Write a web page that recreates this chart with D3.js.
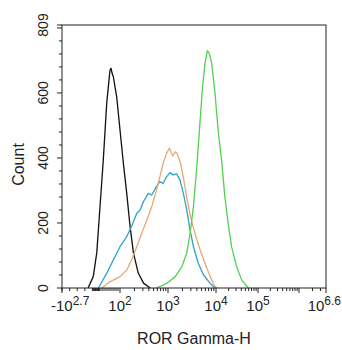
<!DOCTYPE html>
<html><head><meta charset="utf-8">
<script src="https://cdn.jsdelivr.net/npm/d3@7"></script>
<style>body{margin:0;background:#fff}svg{display:block}</style>
</head><body><svg id="c" width="342" height="350"></svg>
<script>
// x values are in logicle display units (decades); y values are event counts
const blackX = [-0.85,-0.48,-0.23,0,0.33,0.67,1.0,1.1,1.2,1.33,1.67,2.0,2.07,2.14,2.21,2.28,2.38,2.49,2.63];
const blackY = [0,35,108,250,394,568,670,676,662,650,588,486,384,291,189,108,46,15,0];
const blueX = [-0.12,0.67,1.33,2.0,2.14,2.24,2.35,2.42,2.49,2.59,2.66,2.76,2.83,2.90,2.97,3.04,3.11,3.18,3.25,3.32,3.39,3.46,3.53,3.63,3.74,3.88,3.98];
const blueY = [0,45,86,127,158,189,230,240,266,291,286,312,327,322,342,355,348,351,332,291,240,178,127,76,40,14,0];
const orangeX = [0.17,1.0,2.0,2.14,2.24,2.35,2.45,2.56,2.66,2.76,2.83,2.90,2.97,3.03,3.10,3.15,3.19,3.26,3.33,3.40,3.47,3.56,3.67,3.77,3.88,3.96,4.02];
const orangeY = [0,19,35,55,86,127,168,209,250,301,342,384,414,430,406,419,414,384,332,271,219,168,117,76,35,9,0];
const greenX = [2.76,2.97,3.15,3.29,3.39,3.46,3.53,3.60,3.67,3.72,3.77,3.82,3.86,3.91,3.98,4.05,4.14,4.21,4.29,4.37,4.49,4.61,4.77];
const greenY = [0,14,35,66,107,168,250,373,517,619,691,730,722,691,599,486,384,281,199,127,66,25,0];

const seriesNames = ["Isotype","Blue","Orange","Green"];
const seriesColors = ["#111111","#2ea3c9","#e2a877","#52d14f"];

const xMajor = [-2.7, 2, 3, 4, 5, 6.6];
const xMajorBase = ["-10","10","10","10","10","10"];
const xMajorExp = ["2.7","2","3","4","5","6.6"];
const yTicks = [0,200,400,600,809];
const yMax = 809;
const xTitle = "ROR Gamma-H";
const yTitle = "Count";

const svg = d3.select("#c");
const L=62,R=326,T=25,B=288;
const font = "'Liberation Sans', Arial, sans-serif";

const x = d3.scaleLinear().domain([-2.7,0,2,3,4,5,6,6.6]).range([L,100,120,168,216,258,299,R]);
const y = d3.scaleLinear().domain([0,yMax]).range([B,T]);
// convert raw intensity to display units
const u = v => v>=100 ? Math.log10(v) : v>=0 ? v/50 : -2.7*(-v)/501;

// curves
const all = [[blackX,blackY],[blueX,blueY],[orangeX,orangeY],[greenX,greenY]];
const line = d3.line().x(d=>x(d[0])).y(d=>y(d[1]));
all.forEach((s,i)=>{
  const pts = s[0].map((v,j)=>[v,s[1][j]]);
  svg.append("path").datum(pts).attr("d",line).attr("fill","none")
    .attr("stroke",seriesColors[i]).attr("stroke-width",1.3).attr("stroke-linejoin","round");
});

// frame
svg.append("rect").attr("x",L).attr("y",T).attr("width",R-L).attr("height",B-T)
  .attr("fill","none").attr("stroke","#222").attr("stroke-width",1);

// y ticks
const yMinor = d3.range(0,yMax,40);
yMinor.forEach(v=>{
  const major = v%200===0;
  svg.append("line").attr("x1",L).attr("x2",L-(major?5:3)).attr("y1",y(v)).attr("y2",y(v)).attr("stroke","#222");
});
svg.append("line").attr("x1",L).attr("x2",L-5).attr("y1",y(yMax)).attr("y2",y(yMax)).attr("stroke","#222");
yTicks.forEach(v=>{
  svg.append("text").attr("transform",`translate(48,${y(v)}) rotate(-90)`)
    .attr("text-anchor","middle").attr("font-family",font).attr("font-size",14).attr("fill","#222").text(v);
});
svg.append("text").attr("transform",`translate(24,${(T+B)/2+8}) rotate(-90)`)
  .attr("text-anchor","middle").attr("font-family",font).attr("font-size",16).attr("fill","#222").text(yTitle);

// x minor ticks
const minorVals = [];
[-500,-400,-300,-200,-100].forEach(v=>minorVals.push(v));
d3.range(-90,100,10).forEach(v=>minorVals.push(v));
[2,3,4,5].forEach(d=>{for(let k=2;k<10;k++) minorVals.push(k*Math.pow(10,d));});
[2,3].forEach(k=>minorVals.push(k*1e6));
minorVals.forEach(v=>{
  const p = x(u(v));
  svg.append("line").attr("x1",p).attr("x2",p).attr("y1",B).attr("y2",B+3).attr("stroke","#222");
});
svg.append("line").attr("x1",x(6)).attr("x2",x(6)).attr("y1",B).attr("y2",B+5).attr("stroke","#222");
xMajor.forEach((v,i)=>{
  const p=x(v);
  svg.append("line").attr("x1",p).attr("x2",p).attr("y1",B).attr("y2",B+5).attr("stroke","#222");
  const t = svg.append("text").attr("y",311).attr("font-family",font).attr("font-size",15).attr("fill","#222");
  t.append("tspan").text(xMajorBase[i]);
  t.append("tspan").attr("dy",-6).attr("font-size",12).text(xMajorExp[i]);
  const w = t.node().getComputedTextLength();
  let sx = p - w/2;
  sx = Math.max(51, Math.min(341 - w, sx));
  t.attr("x",sx);
});
svg.append("text").attr("x",(L+R)/2).attr("y",344).attr("text-anchor","middle")
  .attr("font-family",font).attr("font-size",16).attr("fill","#222").text(xTitle);
</script></body></html>
